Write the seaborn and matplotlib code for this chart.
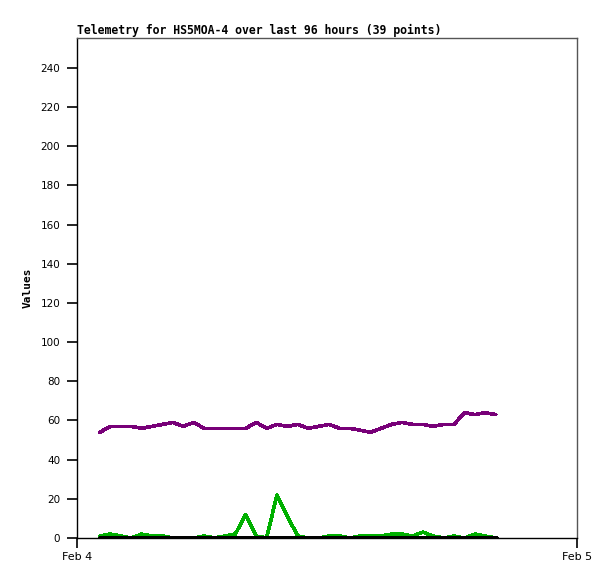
import matplotlib
matplotlib.use("Agg")
import matplotlib.pyplot as plt
import matplotlib.dates as mdates
import pandas as pd
import seaborn as sns

# sample times on Feb 4 (39 points)
times = [
    "01:06", "01:36", "02:06", "02:36", "03:06", "03:36", "04:06", "04:36",
    "05:06", "05:36", "06:06", "06:36", "07:06", "07:36", "08:06", "08:36",
    "09:06", "09:36", "10:06", "10:36", "11:06", "11:36", "12:06", "12:36",
    "13:06", "13:36", "14:06", "14:36", "15:06", "15:36", "16:06", "16:36",
    "17:06", "17:36", "18:06", "18:36", "19:06", "19:36", "20:06",
]
purple_vals = [
    54, 57, 57, 57, 56, 57, 58, 59, 57, 59, 56, 56, 56, 56, 56, 59, 56, 58,
    57, 58, 56, 57, 58, 56, 56, 55, 54, 56, 58, 59, 58, 58, 57, 58, 58, 64,
    63, 64, 63,
]
green_vals = [
    1, 2, 1, 0, 2, 1, 1, 0, 0, 0, 1, 0, 1, 2, 12, 1, 0, 22, 11, 1, 0, 0,
    1, 1, 0, 1, 1, 1, 2, 2, 1, 3, 1, 0, 1, 0, 2, 1, 0,
]
black_vals = [0] * len(times)

series_names = ["A", "B", "C"]
series_colors = {"A": "#780078", "B": "#00b000", "C": "#000000"}
series_widths = {"A": 1.9, "B": 1.9, "C": 2.4}

stamp = pd.to_datetime(["2024-02-04 " + t for t in times])
df = pd.concat([
    pd.DataFrame({"time": stamp, "value": purple_vals, "series": "A"}),
    pd.DataFrame({"time": stamp, "value": green_vals, "series": "B"}),
    pd.DataFrame({"time": stamp, "value": black_vals, "series": "C"}),
], ignore_index=True)

sns.set_style("white")
plt.rcParams["font.family"] = ["DejaVu Sans"]
plt.rcParams["text.color"] = "black"
plt.rcParams["xtick.color"] = "black"
plt.rcParams["ytick.color"] = "black"
plt.rcParams["axes.labelcolor"] = "black"

fig = plt.figure(figsize=(6.15, 5.79), dpi=100)
ax = fig.add_axes([77 / 615, 41 / 579, 500 / 615, 500 / 579])

for name in series_names:
    sns.lineplot(data=df[df["series"] == name], x="time", y="value",
                 color=series_colors[name], linewidth=series_widths[name],
                 legend=False, ax=ax, antialiased=False)

ax.set_xlim(pd.Timestamp("2024-02-04"), pd.Timestamp("2024-02-05"))
ax.set_ylim(0, 255.3)
ax.set_yticks(range(0, 241, 20))
ax.set_xticks([pd.Timestamp("2024-02-04"), pd.Timestamp("2024-02-05")])
ax.xaxis.set_major_formatter(mdates.DateFormatter("%b %-d"))

ax.tick_params(axis="both", which="major", left=True, bottom=True,
               direction="out", length=7, width=1.2, colors="black",
               labelsize=7.5, pad=5)
ax.tick_params(axis="x", pad=3, labelsize=8)
ax.set_xlabel("")
ax.set_ylabel("Values", fontsize=8, fontweight="bold",
              family="DejaVu Sans Mono", labelpad=6, color="black")
ax.set_title("Telemetry for HS5MOA-4 over last 96 hours (39 points)",
             loc="left", fontsize=8.3, fontweight="bold",
             family="DejaVu Sans Mono", pad=3, color="black")

for side in ["left", "bottom"]:
    ax.spines[side].set_color("black")
    ax.spines[side].set_linewidth(1)
for side in ["top", "right"]:
    ax.spines[side].set_color("#555555")
    ax.spines[side].set_linewidth(1)

fig.savefig("out.png", dpi=100)
